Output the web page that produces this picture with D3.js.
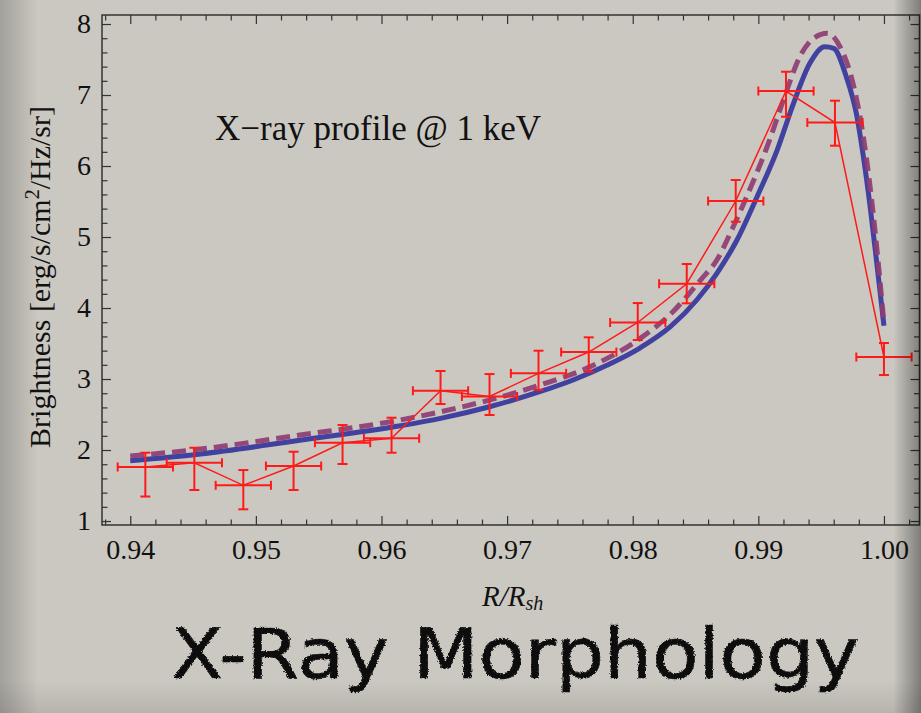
<!DOCTYPE html>
<html>
<head>
<meta charset="utf-8">
<script src="https://cdn.jsdelivr.net/npm/d3@7"></script>
<style>
  html, body { margin: 0; padding: 0; background: #cbc8c1; }
  svg { display: block; }
</style>
</head>
<body>
<svg id="chart" width="921" height="713"></svg>
<script>
// Observed X-ray brightness profile (radius in units of the shock radius)
const obsR = [0.9412, 0.9451, 0.9490, 0.9530, 0.9569, 0.9608, 0.9647, 0.9686,
              0.9725, 0.9765, 0.9804, 0.9843, 0.9882, 0.9922, 0.9961, 1.0000];
const obsB = [1.761, 1.821, 1.503, 1.775, 2.103, 2.165, 2.835, 2.754,
              3.080, 3.380, 3.796, 4.342, 5.507, 7.056, 6.613, 3.310];
const obsHi = [1.962, 2.032, 1.718, 1.976, 2.352, 2.455, 3.113, 3.070,
               3.399, 3.587, 4.070, 4.620, 5.803, 7.328, 6.920, 3.507];
const obsLo = [1.345, 1.437, 1.165, 1.437, 1.803, 1.962, 2.648, 2.493,
               2.845, 3.103, 3.549, 4.066, 5.215, 6.694, 6.286, 3.056];
const obsRErr = 0.0022;

// Model profile, solid curve
const modelAR = [0.9400, 0.9456, 0.9535, 0.9615, 0.9647, 0.9686, 0.9726, 0.9753,
                 0.9779, 0.9806, 0.9830, 0.9851, 0.9867, 0.9883, 0.9899, 0.9915,
                 0.9928, 0.9941, 0.9953, 0.9960, 0.9970, 0.9978, 0.9984, 0.9989,
                 0.9994, 1.0000];
const modelAB = [1.849, 1.944, 2.137, 2.342, 2.446, 2.610, 2.821, 2.990,
                 3.190, 3.440, 3.737, 4.113, 4.489, 4.958, 5.568, 6.225,
                 6.883, 7.446, 7.680, 7.658, 7.258, 6.742, 6.085, 5.427,
                 4.676, 3.750];

// Model profile, dashed curve
const modelBR = [0.9400, 0.9456, 0.9535, 0.9615, 0.9647, 0.9686, 0.9726, 0.9766,
                 0.9806, 0.9832, 0.9854, 0.9867, 0.9880, 0.9893, 0.9907, 0.9920,
                 0.9933, 0.9944, 0.9955, 0.9965, 0.9976, 0.9984, 0.9992, 1.0000];
const modelBB = [1.915, 2.014, 2.211, 2.423, 2.539, 2.704, 2.915, 3.173,
                 3.573, 3.948, 4.394, 4.676, 5.145, 5.662, 6.272, 6.930,
                 7.539, 7.799, 7.869, 7.680, 7.117, 6.366, 5.239, 3.780];

const xMajor = [0.94, 0.95, 0.96, 0.97, 0.98, 0.99, 1.00];
const yMajor = [1, 2, 3, 4, 5, 6, 7, 8];

const svg = d3.select("#chart");
const W = 921, H = 713;
const frame = { left: 102, right: 919.5, top: 15, bottom: 525 };

const x = d3.scaleLinear().domain([0.93775, 1.00283]).range([frame.left, frame.right]);
const y = d3.scaleLinear().domain([0.944, 8.127]).range([frame.bottom, frame.top]);

const xMinor = d3.range(0.938, 1.0029, 0.002).filter(v => !xMajor.some(m => Math.abs(m - v) < 1e-6));
const yMinor = d3.range(1.0, 8.11, 0.2).filter(v => !yMajor.some(m => Math.abs(m - v) < 1e-6));

const defs = svg.append("defs");

// edge shading of the slide
const gl = defs.append("linearGradient").attr("id", "shadeL").attr("x1", 0).attr("x2", 1);
gl.append("stop").attr("offset", 0).attr("stop-color", "#000").attr("stop-opacity", 0.2);
gl.append("stop").attr("offset", 1).attr("stop-color", "#000").attr("stop-opacity", 0);
const gr = defs.append("linearGradient").attr("id", "shadeR").attr("x1", 0).attr("x2", 1);
gr.append("stop").attr("offset", 0).attr("stop-color", "#000").attr("stop-opacity", 0);
gr.append("stop").attr("offset", 1).attr("stop-color", "#000").attr("stop-opacity", 0.38);
const gb = defs.append("linearGradient").attr("id", "shadeB").attr("x1", 0).attr("x2", 0).attr("y1", 0).attr("y2", 1);
gb.append("stop").attr("offset", 0).attr("stop-color", "#000").attr("stop-opacity", 0);
gb.append("stop").attr("offset", 1).attr("stop-color", "#000").attr("stop-opacity", 0.1);

// rough marker-pen edges for the heading
const rough = defs.append("filter").attr("id", "marker").attr("x", "-5%").attr("y", "-20%").attr("width", "110%").attr("height", "140%");
rough.append("feTurbulence").attr("type", "fractalNoise").attr("baseFrequency", 0.6).attr("numOctaves", 2).attr("seed", 3).attr("result", "noise");
rough.append("feDisplacementMap").attr("in", "SourceGraphic").attr("in2", "noise").attr("scale", 3.5)
  .attr("xChannelSelector", "R").attr("yChannelSelector", "G");

svg.append("rect").attr("width", W).attr("height", H).attr("fill", "#cbc8c1");

const serif = "'Liberation Serif', 'DejaVu Serif', serif";

// ----- model curves -----
const lineA = d3.line().x((d, i) => x(modelAR[i])).y(d => y(d)).curve(d3.curveMonotoneX);
const lineB = d3.line().x((d, i) => x(modelBR[i])).y(d => y(d)).curve(d3.curveMonotoneX);

svg.append("path").attr("d", lineA(modelAB))
  .attr("fill", "none").attr("stroke", "#4141a0").attr("stroke-width", 5)
  .attr("stroke-linejoin", "round");
svg.append("path").attr("d", lineB(modelBB))
  .attr("fill", "none").attr("stroke", "#8e3d73").attr("stroke-width", 5)
  .attr("stroke-dasharray", "14,7").attr("stroke-opacity", 0.92);

// ----- observed data -----
const red = "#ff1a1a";
const obsLine = d3.line().x((d, i) => x(obsR[i])).y(d => y(d));
svg.append("path").attr("d", obsLine(obsB))
  .attr("fill", "none").attr("stroke", red).attr("stroke-width", 1.5);

const eb = svg.append("g").attr("stroke", red).attr("stroke-width", 2).attr("fill", "none");
obsB.forEach((b, i) => {
  const cx = x(obsR[i]), cy = y(b);
  const yt = y(obsHi[i]), yb = y(obsLo[i]);
  const xl = x(obsR[i] - obsRErr), xr = x(obsR[i] + obsRErr);
  eb.append("line").attr("x1", cx).attr("x2", cx).attr("y1", yt).attr("y2", yb);
  eb.append("line").attr("x1", cx - 5).attr("x2", cx + 5).attr("y1", yt).attr("y2", yt);
  eb.append("line").attr("x1", cx - 5).attr("x2", cx + 5).attr("y1", yb).attr("y2", yb);
  eb.append("line").attr("x1", xl).attr("x2", xr).attr("y1", cy).attr("y2", cy);
  eb.append("line").attr("x1", xl).attr("x2", xl).attr("y1", cy - 4.5).attr("y2", cy + 4.5);
  eb.append("line").attr("x1", xr).attr("x2", xr).attr("y1", cy - 4.5).attr("y2", cy + 4.5);
});

// ----- frame and ticks -----
function styleAxis(g) {
  g.select(".domain").remove();
  g.selectAll(".tick line").attr("stroke", "#333").attr("stroke-width", 1.2);
  g.selectAll(".tick text").attr("fill", "#111").attr("font-family", serif).attr("font-size", 28);
}
const ax = (fn, scale, vals, size, fmt, pad, tx, ty) =>
  svg.append("g").attr("transform", `translate(${tx},${ty})`)
    .call(fn(scale).tickValues(vals).tickSize(size).tickPadding(pad).tickFormat(fmt))
    .call(styleAxis);

ax(d3.axisBottom, x, xMajor, -9, d3.format(".2f"), 14.5, 0, frame.bottom);
ax(d3.axisBottom, x, xMinor, -5.5, () => "", 0, 0, frame.bottom);
ax(d3.axisTop, x, xMajor, -9, () => "", 0, 0, frame.top);
ax(d3.axisTop, x, xMinor, -5.5, () => "", 0, 0, frame.top);
ax(d3.axisLeft, y, yMajor, -9, d3.format("d"), 11, frame.left, 0);
ax(d3.axisLeft, y, yMinor, -5.5, () => "", 0, frame.left, 0);
ax(d3.axisRight, y, yMajor, -9, () => "", 0, frame.right, 0);
ax(d3.axisRight, y, yMinor, -5.5, () => "", 0, frame.right, 0);

svg.append("rect")
  .attr("x", frame.left).attr("y", frame.top)
  .attr("width", frame.right - frame.left).attr("height", frame.bottom - frame.top)
  .attr("fill", "none").attr("stroke", "#333").attr("stroke-width", 1.5);

// ----- texts -----
svg.append("text").attr("x", 215).attr("y", 140)
  .attr("font-family", serif).attr("font-size", 35).attr("fill", "#111")
  .text("X\u2212ray profile @ 1 keV");

const yl = svg.append("text")
  .attr("transform", "translate(50,277) rotate(-90)")
  .attr("text-anchor", "middle")
  .attr("font-family", serif).attr("font-size", 30).attr("fill", "#111");
yl.append("tspan").text("Brightness [erg/s/cm");
yl.append("tspan").attr("dy", -11).attr("font-size", 20).text("2");
yl.append("tspan").attr("dy", 11).text("/Hz/sr]");

const xl = svg.append("text").attr("x", 482).attr("y", 606)
  .attr("font-family", serif).attr("font-style", "italic").attr("font-size", 29).attr("fill", "#111");
xl.append("tspan").text("R/R");
xl.append("tspan").attr("dy", 4).attr("font-size", 20).text("sh");

svg.append("text").attr("x", 171).attr("y", 678)
  .attr("font-family", "'DejaVu Sans', sans-serif").attr("font-size", 70)
  .attr("textLength", 688).attr("lengthAdjust", "spacingAndGlyphs")
  .attr("fill", "#0a0a0a").attr("stroke", "#0a0a0a").attr("stroke-width", 0.6)
  .attr("filter", "url(#marker)")
  .text("X-Ray Morphology");

// slide edge shading
svg.append("rect").attr("x", 0).attr("y", 0).attr("width", 38).attr("height", H).attr("fill", "url(#shadeL)");
svg.append("rect").attr("x", 893).attr("y", 0).attr("width", 28).attr("height", H).attr("fill", "url(#shadeR)");
svg.append("rect").attr("x", 0).attr("y", 680).attr("width", W).attr("height", 33).attr("fill", "url(#shadeB)");
</script>
</body>
</html>
